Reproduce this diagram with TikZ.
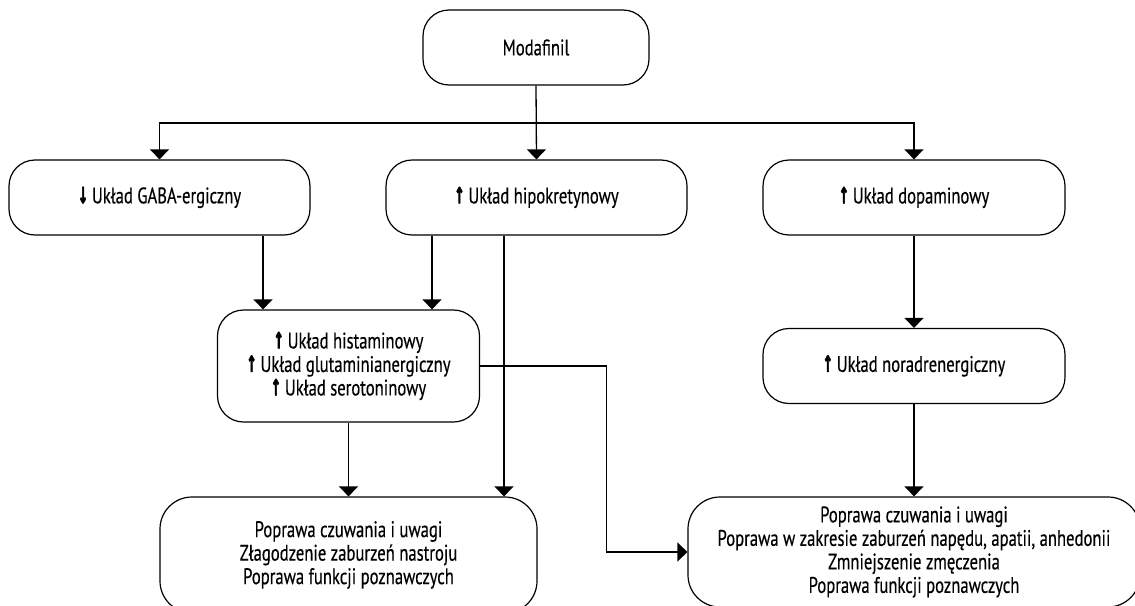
\documentclass[tikz,border=0pt]{standalone}
\usepackage{fontspec}
\setmainfont{PT Sans}[FakeStretch=0.74,FakeBold=0.35]
\newfontfamily\arrowfont{DejaVu Sans Bold}[FakeStretch=0.55,FakeBold=2.5]
\usetikzlibrary{arrows.meta}
\newcommand{\up}{{\arrowfont ↑}\,}
\newcommand{\down}{{\arrowfont ↓}\,}
\tikzset{
  box/.style={draw, line width=1.2pt, rounded corners=26pt, align=center,
    font=\fontsize{22.5}{23.5}\selectfont, inner sep=0pt, fill=white},
  arr/.style={line width=1.3pt, -{Triangle[width=19pt,length=10pt]}},
}
\begin{document}
\begin{tikzpicture}[x=1pt,y=-1pt]
\path[use as bounding box] (0,0) rectangle (1135,605);
\clip (0,0) rectangle (1135,605);
\node[box, minimum width=226pt, minimum height=75pt] (mod) at (536,47.5) {Modafinil};
\node[box, minimum width=301pt, minimum height=75pt] (gaba) at (159.5,197.5) {\down Układ GABA-ergiczny};
\node[box, minimum width=301pt, minimum height=75pt] (hipo) at (536.5,197.5) {\up Układ hipokretynowy};
\node[box, minimum width=302pt, minimum height=75pt] (dopa) at (914,197.5) {\up Układ dopaminowy};
\node[box, minimum width=262pt, minimum height=112pt] (hist) at (348.5,366) {\up Układ histaminowy\\ \up Układ glutaminianergiczny\\ \up Układ serotoninowy};
\node[box, minimum width=302pt, minimum height=75pt] (nora) at (914,366) {\up Układ noradrenergiczny};
\node[box, minimum width=377pt, minimum height=116pt, rounded corners=32pt] (effL) at (348.5,555) {Poprawa czuwania i uwagi\\ Złagodzenie zaburzeń nastroju\\ Poprawa funkcji poznawczych};
\node[box, minimum width=452pt, minimum height=110pt, rounded corners=32pt] (effR) at (914,552) {Poprawa czuwania i uwagi\\ Poprawa w zakresie zaburzeń napędu, apatii, anhedonii\\ Zmniejszenie zmęczenia\\ Poprawa funkcji poznawczych};
\coordinate (bus) at (536,123);
\draw[arr] (mod.south) -- (hipo.north);
\draw[arr] (bus) -| (gaba.north);
\draw[arr] (bus) -| (dopa.north);
\draw[arr] ([xshift=-85.5pt]hist.north |- gaba.south) -- ([xshift=-85.5pt]hist.north);
\draw[arr] ([xshift=83.5pt]hist.north |- hipo.south) -- ([xshift=83.5pt]hist.north);
\draw[arr] ([xshift=155.5pt]effL.north |- hipo.south) -- ([xshift=155.5pt]effL.north);
\draw[arr] (hist.south) -- (effL.north);
\draw[arr] (hist.east) -- ++(126.5,0) |- (effR.west);
\draw[arr] (dopa.south) -- (nora.north);
\draw[arr] (nora.south) -- (effR.north);
\end{tikzpicture}
\end{document}
